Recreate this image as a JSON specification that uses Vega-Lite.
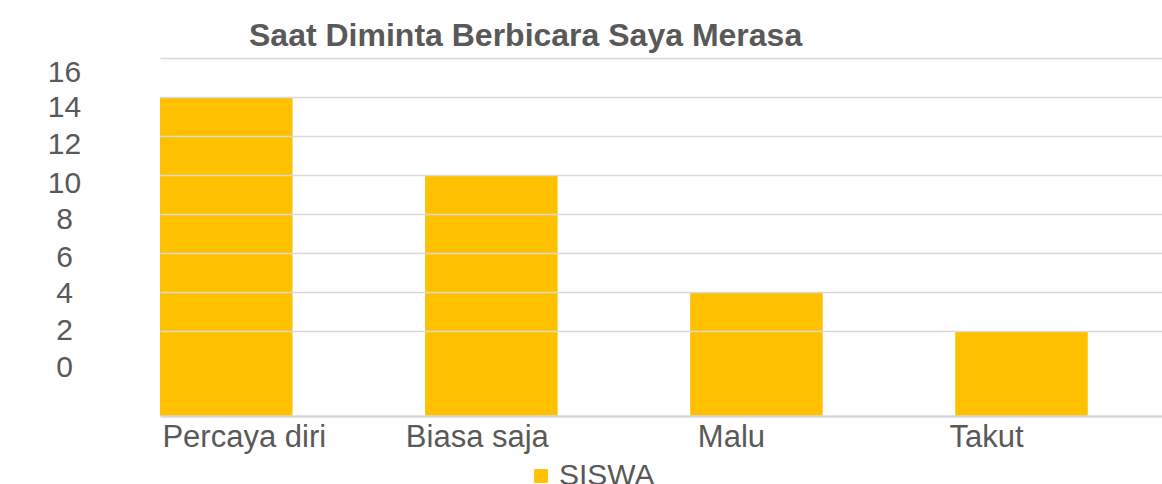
{
  "$schema": "https://vega.github.io/schema/vega-lite/v6.json",
  "width": 1002,
  "height": 358,
  "autosize": "none",
  "padding": {"left": 160, "top": 58, "right": 0, "bottom": 68},
  "background": "white",
  "config": {
    "font": "Liberation Sans",
    "view": {"stroke": null}
  },
  "title": {
    "text": "Saat Diminta Berbicara Saya Merasa",
    "anchor": "start",
    "frame": "group",
    "dx": 89,
    "offset": 4,
    "fontSize": 32,
    "font": "Liberation Sans",
    "fontWeight": "bold",
    "color": "#595959"
  },
  "data": {
    "values": [
      {"kategori": "Percaya diri", "jumlah": 14, "seri": "SISWA"},
      {"kategori": "Biasa saja", "jumlah": 10, "seri": "SISWA"},
      {"kategori": "Malu", "jumlah": 4, "seri": "SISWA"},
      {"kategori": "Takut", "jumlah": 2, "seri": "SISWA"}
    ]
  },
  "mark": {"type": "bar"},
  "encoding": {
    "x": {
      "field": "kategori",
      "type": "nominal",
      "sort": null,
      "title": null,
      "scale": {"paddingInner": 0.5, "paddingOuter": 0.14, "align": 0},
      "axis": {
        "zindex": 1,
        "labelAngle": 0,
        "labelFontSize": 31,
        "labelColor": "#595959",
        "labelPadding": 6,
        "ticks": false,
        "tickSize": 0,
        "grid": false,
        "domainColor": "#D9D9D9",
        "domainWidth": 2.5,
        "labelOffset": {
          "condition": [
            {"test": "datum.value === 'Percaya diri'", "value": 18},
            {"test": "datum.value === 'Biasa saja'", "value": -14},
            {"test": "datum.value === 'Malu'", "value": -25}
          ],
          "value": -35
        }
      }
    },
    "y": {
      "field": "jumlah",
      "type": "quantitative",
      "title": null,
      "scale": {"domain": [-2.36, 16], "nice": false, "zero": false},
      "axis": {
        "zindex": 1,
        "values": [0, 2, 4, 6, 8, 10, 12, 14, 16],
        "grid": true,
        "gridColor": {
          "condition": {"test": "datum.value === 0", "value": "transparent"},
          "value": "#D9D9D9"
        },
        "gridWidth": 1.5,
        "domain": false,
        "ticks": false,
        "tickSize": 0,
        "labelAlign": "center",
        "labelPadding": 96,
        "labelFontSize": 30,
        "labelColor": "#595959",
        "labelOffset": {
          "condition": [
            {"test": "datum.value === 16", "value": 14},
            {"test": "datum.value === 14", "value": 11},
            {"test": "datum.value === 12", "value": 9},
            {"test": "datum.value === 10", "value": 9},
            {"test": "datum.value === 8", "value": 6},
            {"test": "datum.value === 6", "value": 5},
            {"test": "datum.value === 4", "value": 2},
            {"test": "datum.value === 2", "value": 0}
          ],
          "value": -2
        }
      }
    },
    "y2": {"datum": -2.36},
    "color": {
      "field": "seri",
      "type": "nominal",
      "scale": {"range": ["#FFC000"]},
      "legend": {
        "title": null,
        "orient": "none",
        "legendX": 366,
        "legendY": 403,
        "direction": "horizontal",
        "symbolType": "square",
        "symbolSize": 190,
        "symbolStrokeWidth": 0,
        "labelFontSize": 30,
        "labelColor": "#595959",
        "labelOffset": 3,
        "padding": 0
      }
    }
  }
}
